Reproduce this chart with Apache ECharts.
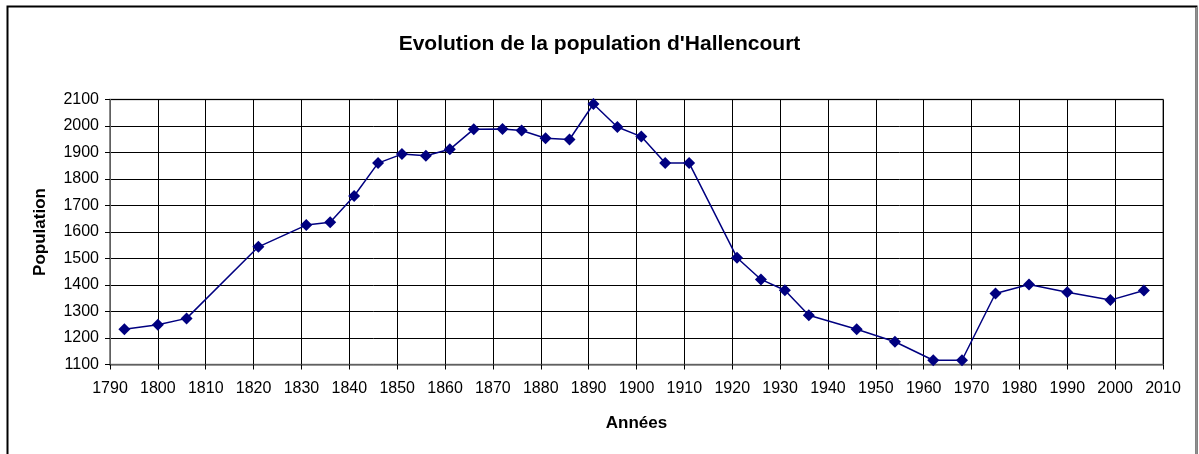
<!DOCTYPE html>
<html lang="fr">
<head>
    <meta charset="UTF-8">
    <title>Evolution de la population d'Hallencourt</title>
    <script src="https://cdn.jsdelivr.net/npm/echarts@6/dist/echarts.min.js"></script>
    <style>
        html, body { margin: 0; padding: 0; background: #fff; }
        #chart { width: 1199px; height: 454px; }
    </style>
</head>
<body>
<div id="chart"></div>
<script>

  // recensements
  var YEARS = [1793, 1800, 1806, 1821, 1831, 1836, 1841, 1846, 1851, 1856, 1861, 1866,
    1872, 1876, 1881, 1886, 1891, 1896, 1901, 1906, 1911, 1921, 1926, 1931, 1936,
    1946, 1954, 1962, 1968, 1975, 1982, 1990, 1999, 2006];
  var POPULATION = [1233, 1250, 1274, 1544, 1626, 1637, 1736, 1860, 1894, 1888, 1912, 1988,
    1989, 1983, 1954, 1949, 2083, 1996, 1960, 1860, 1860, 1503, 1421, 1380, 1286,
    1233, 1186, 1116, 1116, 1368, 1402, 1373, 1343, 1379];

  var TITLE = "Evolution de la population d'Hallencourt";
  var X_NAME = 'Années';
  var Y_NAME = 'Population';

  var FONT = '"Liberation Sans", Arial, sans-serif';

  var points = YEARS.map(function (y, i) {
    return [y, POPULATION[i]];
  });

  // pas de séparateur de milliers
  function plain(v) {
    return String(v);
  }

  var myChart = echarts.init(document.getElementById('chart'), null, { renderer: 'canvas' });

  myChart.setOption({
    animation: false,
    backgroundColor: '#fff',
    title: {
      text: TITLE,
      left: 'center',
      top: 29,
      textStyle: { fontFamily: FONT, fontSize: 21, fontWeight: 'bold', color: '#000' }
    },
    graphic: [
      {
        type: 'rect',
        shape: { x: 7.5, y: 6.5, width: 1189, height: 470 },
        style: { fill: null, stroke: '#000', lineWidth: 2 },
        silent: true
      },
      {
        type: 'line',
        shape: { x1: 1196.5, y1: 7, x2: 1196.5, y2: 454 },
        style: { stroke: '#909090', lineWidth: 1.5 },
        silent: true
      }
    ],
    grid: {
      left: 110,
      right: 36,
      top: 99.5,
      bottom: 89.5,
      show: true,
      borderColor: '#808080',
      borderWidth: 1.5
    },
    xAxis: {
      type: 'value',
      min: 1790,
      max: 2010,
      interval: 10,
      name: X_NAME,
      nameLocation: 'middle',
      nameGap: 50,
      nameTextStyle: { fontFamily: FONT, fontSize: 17, fontWeight: 'bold', color: '#000' },
      axisLine: { lineStyle: { color: '#808080', width: 1.5 } },
      axisTick: { show: true, length: 5, lineStyle: { color: '#000' } },
      axisLabel: { fontFamily: FONT, fontSize: 16, color: '#000', margin: 16, formatter: plain },
      splitLine: { show: true, lineStyle: { color: '#000', width: 1 } }
    },
    yAxis: {
      type: 'value',
      min: 1100,
      max: 2100,
      interval: 100,
      name: Y_NAME,
      nameLocation: 'middle',
      nameGap: 61,
      nameTextStyle: { fontFamily: FONT, fontSize: 17, fontWeight: 'bold', color: '#000' },
      axisLine: { show: true, lineStyle: { color: '#808080', width: 1.5 } },
      axisTick: { show: true, length: 5, lineStyle: { color: '#000' } },
      axisLabel: { fontFamily: FONT, fontSize: 16, color: '#000', margin: 11, formatter: plain },
      splitLine: { show: true, lineStyle: { color: '#000', width: 1 } }
    },
    series: [
      {
        name: Y_NAME,
        type: 'line',
        data: points,
        symbol: 'diamond',
        symbolSize: 12,
        itemStyle: { color: '#000080' },
        lineStyle: { color: '#000080', width: 1.5 }
      }
    ]
  });
</script>
</body>
</html>
